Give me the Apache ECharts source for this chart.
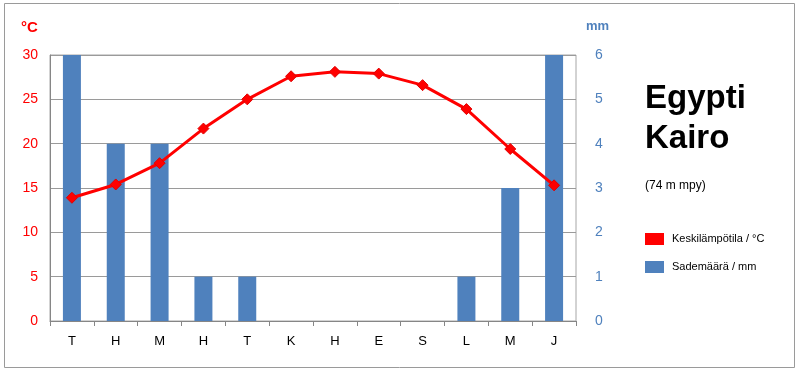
<!DOCTYPE html>
<html><head><meta charset="utf-8">
<script src="https://cdn.jsdelivr.net/npm/echarts@6/dist/echarts.min.js"></script>
<style>html,body{margin:0;padding:0;background:#fff}#c{width:800px;height:372px}</style>
</head><body><div id="c"></div>
<script>
const months = ['T','H','M','H','T','K','H','E','S','L','M','J'];
const temperature = [13.9,15.4,17.8,21.7,25.0,27.6,28.1,27.9,26.6,23.9,19.4,15.3];
const precipitation = [6,4,4,1,1,0,0,0,0,1,3,6];
const tempTicks = [0,5,10,15,20,25,30];
const precTicks = [0,1,2,3,4,5,6];
const title1 = 'Egypti', title2 = 'Kairo', subtitle = '(74 m mpy)';
const legendTemp = 'Keskilämpötila / °C', legendPrec = 'Sademäärä / mm';

const FONT = '"Liberation Sans", Arial, sans-serif';
const chart = echarts.init(document.getElementById('c'), null, {renderer:'canvas'});
chart.setOption({
  animation:false,
  textStyle:{fontFamily:FONT},
  grid:{left:50,right:224,top:55,bottom:51,show:true,borderColor:'#a6a6a6',borderWidth:1},
  graphic:[
    {type:'rect',shape:{x:4.5,y:3.5,width:790,height:364},style:{fill:'none',stroke:'#9a9a9a',lineWidth:1}},
    {type:'text',left:21,top:20,style:{text:'°C',fill:'#ff0000',font:'bold 15px '+FONT}},
    {type:'text',left:586,top:20,style:{text:'mm',fill:'#4f81bd',font:'bold 13px '+FONT}},
    {type:'text',left:645,top:82,style:{text:title1,fill:'#000',font:'bold 33px '+FONT}},
    {type:'text',left:645,top:122,style:{text:title2,fill:'#000',font:'bold 33px '+FONT}},
    {type:'text',left:645,top:180,style:{text:subtitle,fill:'#000',font:'12px '+FONT}},
    {type:'rect',shape:{x:645,y:233,width:19,height:12},style:{fill:'#ff0000'}},
    {type:'text',left:672,top:233,style:{text:legendTemp,fill:'#000',font:'11px '+FONT}},
    {type:'rect',shape:{x:645,y:261,width:19,height:12},style:{fill:'#4f81bd'}},
    {type:'text',left:672,top:261,style:{text:legendPrec,fill:'#000',font:'11px '+FONT}}
  ],
  xAxis:{type:'category',data:months,boundaryGap:true,
    axisLine:{show:true,lineStyle:{color:'#868686'}},
    axisTick:{show:true,length:5,lineStyle:{color:'#868686'}},
    axisLabel:{color:'#000',fontSize:13,margin:14,fontFamily:FONT}},
  yAxis:[
    {type:'value',min:0,max:30,interval:5,position:'left',
     axisLine:{show:true,lineStyle:{color:'#868686'}},axisTick:{show:false},
     splitLine:{show:true,lineStyle:{color:'#9a9a9a'}},
     axisLabel:{color:'#ff0000',fontSize:14,margin:12,fontFamily:FONT,
       formatter:v=>tempTicks.includes(v)?String(v):''}},
    {type:'value',min:0,max:6,interval:1,position:'right',
     axisLine:{show:false},axisTick:{show:false},splitLine:{show:false},
     axisLabel:{color:'#4f81bd',fontSize:14,margin:19,fontFamily:FONT,
       formatter:v=>precTicks.includes(v)?String(v):''}}
  ],
  series:[
    {type:'bar',yAxisIndex:1,data:precipitation,barWidth:18,itemStyle:{color:'#4f81bd'},z:2},
    {type:'line',yAxisIndex:0,data:temperature,symbol:'diamond',symbolSize:11,
     lineStyle:{color:'#ff0000',width:3},itemStyle:{color:'#ff0000',borderColor:'#e00000',borderWidth:1},z:3}
  ]
});
</script></body></html>
